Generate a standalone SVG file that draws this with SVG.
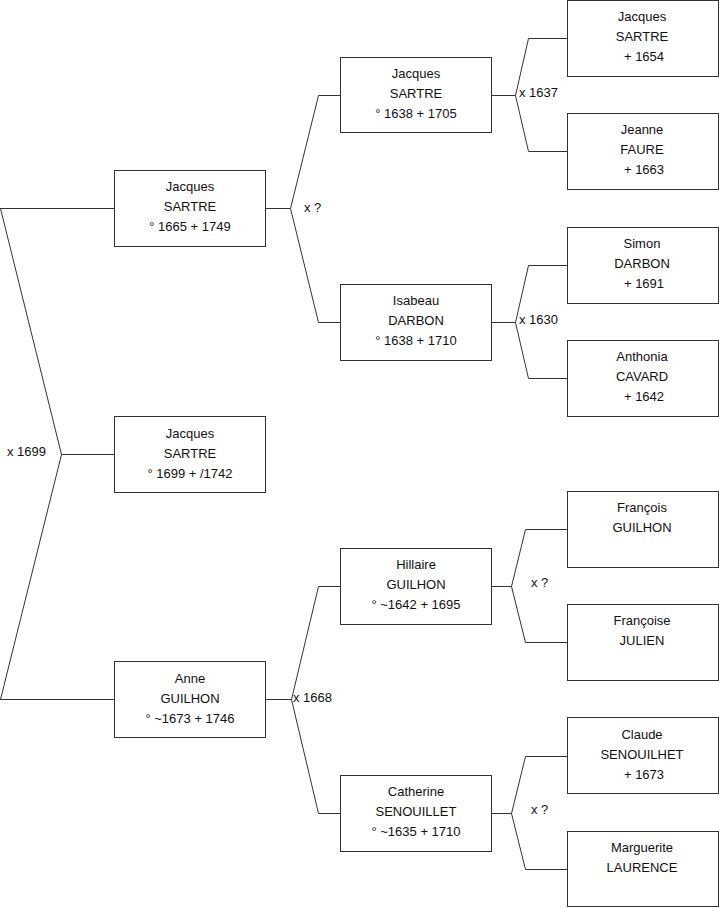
<svg xmlns="http://www.w3.org/2000/svg" width="719" height="908" viewBox="0 0 719 908">
<style>
.box{fill:#fff;stroke:#333;stroke-width:1}
.ln{fill:none;stroke:#333;stroke-width:1}
text{font-family:"Liberation Sans",Arial,sans-serif;font-size:13px;fill:#111}
.c{text-anchor:middle}
</style>
<rect width="719" height="908" fill="#fff"/>
<g id="connectors">
<path class="ln" d="M0,208.5 H114 M0.5,208.5 L61.5,454.5 L0.5,699.5 M0,699.5 H114 M61.5,454.5 H114"/>
<path class="ln" d="M265,208.5 H290.5 L318.5,95.5 H340 M290.5,208.5 L318.5,322.5 H340"/>
<path class="ln" d="M265,699.5 H291.5 L318.5,586.5 H340 M291.5,699.5 L318.5,813.5 H340"/>
<path class="ln" d="M492,95.5 H515.5 L528.5,38.5 H567 M515.5,95.5 L528.5,151.5 H567"/>
<path class="ln" d="M492,322.5 H515.5 L528.5,265.5 H567 M515.5,322.5 L528.5,378.5 H567"/>
<path class="ln" d="M492,586.5 H511.5 L525.5,529.5 H567 M511.5,586.5 L525.5,642.5 H567"/>
<path class="ln" d="M492,813.5 H511.5 L525.5,756.5 H567 M511.5,813.5 L525.5,869.5 H567"/>
<text x="7" y="456">x 1699</text>
<text x="304" y="212">x ?</text>
<text x="293" y="702">x 1668</text>
<text x="519" y="97">x 1637</text>
<text x="519" y="324">x 1630</text>
<text x="531" y="587">x ?</text>
<text x="531" y="814">x ?</text>
</g>
<g id="n1"><rect class="box" x="114.5" y="170.5" width="151" height="76"/><text class="c" x="190" y="191">Jacques</text><text class="c" x="190" y="211">SARTRE</text><text class="c" x="190" y="231">° 1665 + 1749</text></g>
<g id="n2"><rect class="box" x="114.5" y="416.5" width="151" height="76"/><text class="c" x="190" y="438">Jacques</text><text class="c" x="190" y="458">SARTRE</text><text class="c" x="190" y="478">° 1699 + /1742</text></g>
<g id="n3"><rect class="box" x="114.5" y="661.5" width="151" height="76"/><text class="c" x="190" y="683">Anne</text><text class="c" x="190" y="703">GUILHON</text><text class="c" x="190" y="723">° ~1673 + 1746</text></g>
<g id="n4"><rect class="box" x="340.5" y="57.5" width="151" height="75"/><text class="c" x="416" y="78">Jacques</text><text class="c" x="416" y="98">SARTRE</text><text class="c" x="416" y="118">° 1638 + 1705</text></g>
<g id="n5"><rect class="box" x="340.5" y="284.5" width="151" height="76"/><text class="c" x="416" y="305">Isabeau</text><text class="c" x="416" y="325">DARBON</text><text class="c" x="416" y="345">° 1638 + 1710</text></g>
<g id="n6"><rect class="box" x="340.5" y="548.5" width="151" height="76"/><text class="c" x="416" y="569">Hillaire</text><text class="c" x="416" y="589">GUILHON</text><text class="c" x="416" y="609">° ~1642 + 1695</text></g>
<g id="n7"><rect class="box" x="340.5" y="775.5" width="151" height="76"/><text class="c" x="416" y="796">Catherine</text><text class="c" x="416" y="816">SENOUILLET</text><text class="c" x="416" y="836">° ~1635 + 1710</text></g>
<g id="n8"><rect class="box" x="567.5" y="0.5" width="151" height="76"/><text class="c" x="642" y="21">Jacques</text><text class="c" x="642" y="41">SARTRE</text><text class="c" x="644" y="61">+ 1654</text></g>
<g id="n9"><rect class="box" x="567.5" y="113.5" width="151" height="76"/><text class="c" x="642" y="134">Jeanne</text><text class="c" x="642" y="154">FAURE</text><text class="c" x="644" y="174">+ 1663</text></g>
<g id="n10"><rect class="box" x="567.5" y="227.5" width="151" height="76"/><text class="c" x="642" y="248">Simon</text><text class="c" x="642" y="268">DARBON</text><text class="c" x="644" y="288">+ 1691</text></g>
<g id="n11"><rect class="box" x="567.5" y="340.5" width="151" height="76"/><text class="c" x="642" y="361">Anthonia</text><text class="c" x="642" y="381">CAVARD</text><text class="c" x="644" y="401">+ 1642</text></g>
<g id="n12"><rect class="box" x="567.5" y="491.5" width="151" height="76"/><text class="c" x="642" y="512">François</text><text class="c" x="642" y="532">GUILHON</text></g>
<g id="n13"><rect class="box" x="567.5" y="604.5" width="151" height="76"/><text class="c" x="642" y="625">Françoise</text><text class="c" x="642" y="645">JULIEN</text></g>
<g id="n14"><rect class="box" x="567.5" y="717.5" width="151" height="76"/><text class="c" x="642" y="739">Claude</text><text class="c" x="642" y="759">SENOUILHET</text><text class="c" x="644" y="779">+ 1673</text></g>
<g id="n15"><rect class="box" x="567.5" y="831.5" width="151" height="75"/><text class="c" x="642" y="852">Marguerite</text><text class="c" x="642" y="872">LAURENCE</text></g>
</svg>
